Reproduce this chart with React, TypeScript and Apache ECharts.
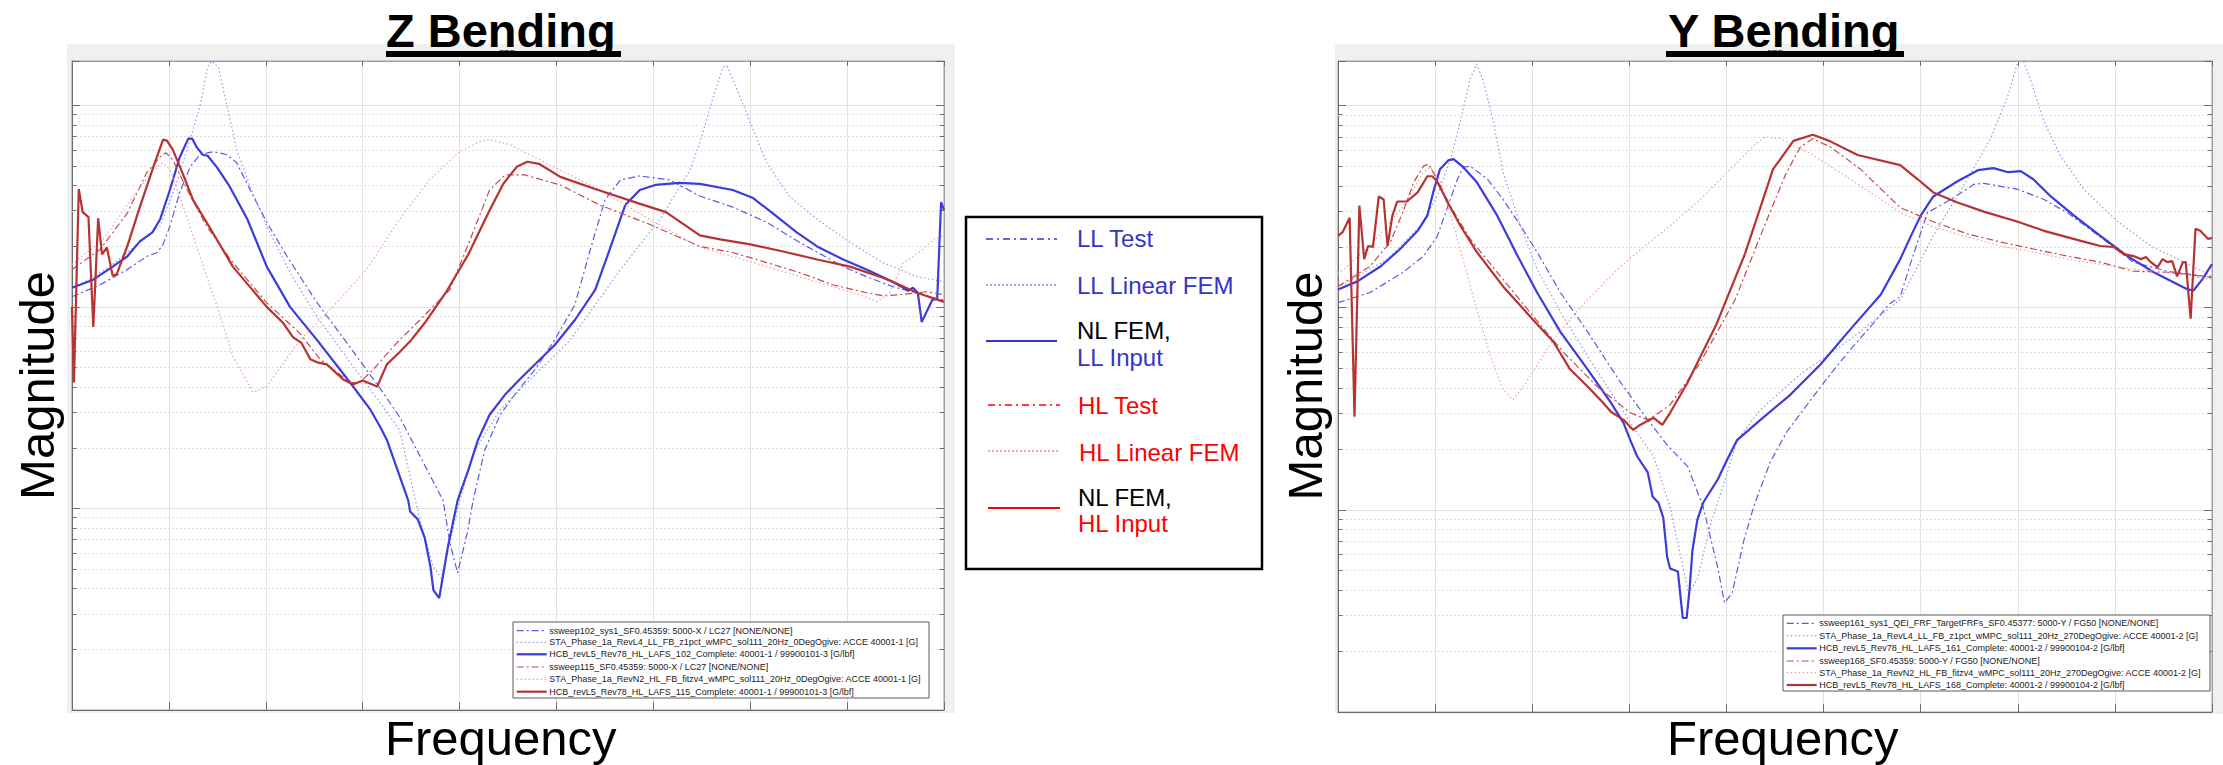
import React, { useEffect, useRef } from "react";
import * as echarts from "echarts";

// x in arbitrary frequency units (0..90, 9 grid divisions), y in dB (20*log10 magnitude)
const xTickValues = [0, 10, 20, 30, 40, 50, 60, 70, 80, 90];
const decadeValues = [-60, -40, -20, 0];
const minorFactors = [2, 3, 4, 5, 6, 7, 8, 9];

// ---------------- Z Bending ----------------
const zLLTest = [[0,-19.0],[2.9,-17.8],[5.7,-16.3],[7.7,-15.0],[8.8,-14.6],[9.4,-13.8],[10.1,-12.0],[11.1,-8.7],[12.2,-6.1],[13.2,-4.9],[14.6,-4.6],[16.0,-4.9],[17.0,-5.7],[18.4,-8.4],[20.1,-11.6],[22.2,-15.0],[25.3,-19.6],[28.7,-24.0],[32.1,-28.5],[33.8,-30.9],[38.3,-39.2],[39.0,-43.4],[39.8,-46.4],[40.8,-42.4],[41.4,-39.2],[42.6,-34.2],[44.2,-30.7],[45.7,-28.7],[47.8,-26.2],[49.8,-23.3],[51.9,-19.8],[53.5,-14.3],[55.0,-9.4],[56.6,-7.4],[58.6,-7.0],[61.7,-7.4],[64.8,-9.0],[68.2,-10.1],[71.7,-11.6],[75.1,-13.6],[79.6,-16.0],[82.0,-17.0],[84.7,-18.0],[87.2,-18.6],[88.9,-19.1],[90.0,-19.3]];
const zLLLinearFEM = [[0,-18.3],[3.9,-16.0],[7.0,-13.6],[9.1,-12.0],[10.8,-7.7],[12.2,-3.4],[13.2,-0.1],[14.0,3.8],[14.4,4.4],[15.1,3.8],[16.0,-0.1],[17.0,-4.4],[18.4,-8.1],[20.1,-12.0],[22.5,-16.6],[25.3,-21.0],[28.7,-25.5],[32.1,-29.9],[33.8,-32.2],[35.9,-41.1],[37.3,-45.8],[38.1,-46.9],[39.0,-43.4],[40.0,-39.2],[41.6,-34.2],[44.2,-30.2],[47.3,-27.2],[51.4,-23.3],[56.6,-16.3],[60.7,-11.3],[63.8,-6.4],[64.8,-3.7],[66.2,0.9],[67.2,3.8],[67.6,3.9],[68.2,2.6],[70.0,-1.7],[71.7,-5.7],[74.1,-9.1],[76.9,-11.3],[80.3,-13.6],[83.7,-15.6],[87.2,-17.0],[90.0,-17.5]];
const zLLNLFEM = [[0,-18.1],[2.2,-17.3],[4.2,-16.0],[5.7,-15.0],[7.0,-13.5],[8.3,-12.6],[9.1,-11.3],[10.1,-8.4],[11.1,-5.2],[12.0,-3.3],[12.4,-3.3],[12.9,-4.2],[13.5,-4.9],[14.0,-5.0],[15.0,-6.2],[16.3,-8.1],[18.1,-11.3],[20.1,-16.0],[22.5,-20.0],[25.3,-23.3],[28.7,-27.5],[30.8,-30.2],[31.8,-31.9],[32.5,-33.2],[34.7,-39.2],[34.9,-40.3],[35.7,-41.1],[36.4,-42.9],[37.0,-45.8],[37.3,-48.1],[37.9,-48.9],[38.8,-43.8],[39.8,-39.2],[40.9,-36.2],[41.9,-33.2],[43.1,-30.7],[44.7,-28.7],[46.2,-27.2],[47.8,-25.7],[49.8,-23.8],[51.9,-21.3],[54.0,-18.3],[55.5,-14.3],[57.1,-9.9],[58.6,-8.4],[60.2,-7.9],[62.7,-7.7],[64.8,-7.8],[68.2,-8.4],[70.3,-9.2],[72.3,-10.7],[74.8,-12.6],[76.9,-14.0],[79.6,-15.3],[82.0,-16.3],[84.7,-17.5],[85.8,-18.1],[86.3,-18.4],[86.8,-18.1],[87.3,-18.6],[87.7,-21.5],[88.8,-19.3],[89.3,-19.2],[89.7,-9.6],[90.0,-10.4]];
const zHLTest = [[0,-16.3],[2.9,-14.3],[5.7,-10.7],[7.7,-6.7],[9.1,-5.1],[9.7,-4.7],[10.4,-5.4],[11.9,-8.4],[13.9,-12.0],[16.6,-15.6],[20.1,-19.6],[23.5,-22.6],[25.6,-25.2],[28.7,-27.5],[29.7,-27.5],[31.1,-26.2],[33.1,-24.0],[33.8,-23.3],[35.9,-21.3],[39.0,-18.3],[41.1,-13.3],[43.1,-8.4],[44.7,-6.9],[46.7,-6.9],[50.4,-7.9],[54.5,-9.9],[59.6,-11.8],[64.8,-14.0],[68.2,-14.6],[71.7,-15.6],[75.1,-16.6],[78.5,-17.8],[82.0,-18.6],[83.7,-18.9],[85.4,-18.8],[88.2,-18.5],[90.0,-18.8]];
const zHLLinearFEM = [[0,-15.8],[3.2,-13.3],[6.3,-9.1],[8.4,-6.4],[9.4,-5.7],[10.1,-6.4],[11.5,-10.1],[13.2,-15.0],[15.0,-20.0],[16.6,-24.9],[18.7,-28.5],[20.1,-27.9],[23.5,-23.3],[26.9,-20.0],[30.4,-16.3],[33.8,-11.3],[36.9,-7.4],[40.0,-4.6],[42.1,-3.6],[43.1,-3.4],[45.2,-3.9],[49.3,-5.9],[54.5,-8.4],[59.6,-11.3],[64.8,-14.1],[68.2,-15.0],[71.7,-16.0],[75.1,-17.0],[78.5,-18.0],[81.3,-18.8],[83.1,-19.5],[84.4,-18.6],[85.8,-15.6],[86.8,-15.0],[87.8,-14.3],[88.9,-13.3],[90.0,-12.9]];
const zHLNLFEM = [[0,-20.0],[0.2,-27.5],[0.7,-8.3],[1.1,-10.6],[1.7,-11.1],[2.2,-22.0],[2.7,-11.2],[3.1,-14.8],[3.6,-14.1],[4.2,-16.9],[4.6,-16.8],[5.7,-14.0],[7.0,-10.1],[8.4,-6.1],[9.4,-3.4],[9.8,-3.5],[10.4,-4.4],[11.4,-6.7],[12.5,-9.4],[14.2,-12.1],[16.6,-16.0],[20.1,-20.0],[21.8,-21.6],[22.8,-23.0],[23.7,-23.6],[24.6,-25.2],[25.3,-25.5],[26.3,-25.7],[28.0,-27.2],[29.0,-27.7],[30.0,-27.3],[31.5,-27.9],[32.5,-25.7],[33.8,-24.5],[35.0,-23.3],[36.4,-21.6],[38.7,-18.4],[40.9,-14.8],[43.0,-10.6],[44.5,-7.8],[45.9,-6.1],[47.0,-5.6],[48.2,-5.8],[50.4,-7.1],[54.0,-8.3],[58.4,-9.7],[61.3,-10.6],[64.8,-12.9],[66.9,-13.3],[70.0,-13.8],[73.4,-14.5],[76.9,-15.3],[80.3,-16.0],[83.7,-17.1],[85.4,-17.8],[87.2,-18.6],[90.0,-19.5]];

// ---------------- Y Bending ----------------
const yLLTest = [[0,-19.5],[3.3,-18.5],[6.7,-16.5],[8.8,-14.9],[10.2,-13.0],[11.3,-10.0],[12.3,-7.3],[12.9,-6.1],[13.6,-6.0],[15.4,-7.3],[17.0,-9.3],[18.8,-11.9],[20.5,-14.5],[22.9,-18.5],[25.7,-22.4],[29.1,-27.4],[31.9,-31.1],[33.9,-33.6],[36.0,-35.7],[37.6,-39.7],[39.1,-45.7],[39.8,-49.2],[40.6,-48.2],[41.8,-43.0],[42.8,-39.7],[44.5,-35.3],[46.2,-32.3],[48.7,-29.1],[50.6,-26.7],[52.8,-24.1],[54.9,-21.8],[56.7,-19.7],[57.9,-18.9],[59.0,-15.5],[60.7,-10.6],[63.1,-9.3],[65.5,-7.8],[66.5,-7.7],[70.0,-8.3],[72.7,-9.3],[75.1,-10.6],[78.5,-13.0],[81.9,-15.5],[85.4,-16.4],[90.0,-17.0]];
const yLLLinearFEM = [[0,-18.0],[5.1,-15.2],[8.5,-11.9],[10.2,-9.0],[11.6,-5.3],[12.6,-1.6],[13.6,2.6],[14.3,4.1],[15.0,2.3],[16.0,-1.6],[17.0,-6.6],[18.8,-11.9],[20.5,-16.2],[23.2,-20.9],[25.7,-24.8],[28.4,-28.8],[30.8,-32.4],[32.5,-34.7],[34.2,-39.7],[35.3,-44.7],[36.1,-48.2],[37.0,-46.9],[38.4,-41.3],[40.1,-36.3],[41.1,-33.1],[43.5,-30.1],[47.6,-26.6],[52.8,-23.1],[57.9,-19.2],[61.3,-12.9],[64.8,-7.3],[67.2,-3.3],[69.0,1.0],[70.0,4.3],[70.5,4.6],[71.3,2.6],[72.7,-1.6],[74.4,-5.0],[76.8,-8.3],[80.3,-11.5],[83.7,-13.9],[87.1,-15.5],[90.0,-16.9]];
const yLLNLFEM = [[0,-18.2],[2.0,-17.4],[4.4,-15.9],[6.4,-14.2],[8.2,-12.4],[9.2,-10.9],[9.8,-8.6],[10.5,-6.3],[11.4,-5.4],[11.9,-5.3],[12.9,-6.1],[14.3,-7.6],[16.4,-10.9],[18.5,-14.9],[20.5,-18.5],[22.9,-22.4],[25.7,-26.1],[28.1,-29.4],[29.4,-31.4],[30.1,-33.1],[30.8,-34.7],[31.9,-36.3],[32.4,-38.7],[33.0,-39.3],[33.5,-40.8],[33.9,-44.7],[34.2,-45.8],[35.0,-46.1],[35.5,-50.7],[35.9,-50.7],[36.2,-47.9],[36.5,-44.0],[37.0,-41.0],[37.6,-39.3],[39.1,-37.0],[40.1,-35.0],[41.1,-33.1],[43.5,-31.1],[46.6,-28.6],[49.7,-25.6],[52.8,-22.1],[55.9,-18.7],[57.9,-15.2],[59.0,-12.9],[60.0,-10.9],[61.3,-9.0],[63.8,-7.5],[65.9,-6.4],[67.5,-6.2],[69.0,-6.6],[70.3,-6.5],[71.6,-7.3],[73.4,-9.0],[75.8,-10.9],[78.5,-12.9],[81.3,-14.9],[84.0,-16.5],[87.5,-18.2],[88.1,-18.3],[89.0,-17.2],[90.0,-15.7]];
const yHLTest = [[0,-17.9],[3.3,-15.9],[5.4,-13.5],[6.7,-10.5],[7.8,-7.6],[8.8,-6.0],[9.3,-5.8],[10.2,-7.3],[11.6,-10.0],[13.6,-13.2],[16.4,-16.5],[19.8,-20.5],[23.2,-24.4],[26.7,-27.8],[30.1,-30.4],[31.9,-31.1],[33.5,-30.1],[34.2,-29.6],[37.2,-25.6],[40.9,-19.2],[44.0,-11.7],[46.1,-6.8],[47.6,-4.1],[48.9,-3.3],[50.7,-4.1],[53.8,-6.3],[57.9,-10.1],[61.3,-11.5],[64.8,-12.7],[68.2,-13.5],[71.6,-14.2],[75.1,-14.9],[78.5,-15.5],[81.9,-16.4],[85.4,-16.5],[90.0,-17.0]];
const yHLLinearFEM = [[0,-16.7],[3.3,-13.9],[6.7,-10.0],[8.8,-6.6],[9.5,-6.1],[10.5,-7.3],[12.3,-13.2],[14.0,-19.2],[15.7,-24.8],[17.0,-28.1],[18.0,-29.1],[19.1,-27.8],[22.2,-23.1],[25.7,-19.2],[29.1,-15.9],[32.5,-13.2],[34.2,-11.9],[37.3,-9.3],[40.4,-6.3],[43.0,-3.8],[44.0,-3.1],[45.6,-3.3],[48.7,-4.8],[52.8,-7.3],[57.9,-10.6],[61.3,-12.0],[64.8,-13.0],[68.2,-13.9],[71.6,-14.5],[75.1,-15.2],[78.5,-15.7],[81.9,-16.2],[85.4,-16.5],[90.0,-17.2]];
const yHLNLFEM = [[0,-12.9],[0.5,-12.5],[1.2,-11.1],[1.7,-30.8],[2.2,-9.9],[2.7,-15.2],[3.1,-13.9],[3.6,-14.0],[4.2,-9.0],[4.7,-9.3],[5.1,-13.9],[5.6,-10.9],[6.1,-9.5],[7.1,-9.5],[8.2,-8.6],[9.2,-7.0],[9.7,-7.0],[10.2,-7.5],[11.3,-9.6],[12.6,-11.9],[14.3,-14.5],[17.0,-17.9],[19.8,-20.9],[22.2,-23.4],[23.9,-26.1],[25.7,-27.8],[27.3,-29.4],[28.1,-30.3],[29.4,-31.1],[30.4,-32.1],[31.1,-31.6],[32.5,-30.9],[33.4,-31.6],[34.2,-30.4],[36.0,-27.4],[38.9,-21.8],[41.9,-14.7],[44.8,-6.3],[46.9,-3.5],[48.9,-2.9],[50.6,-3.5],[53.5,-4.9],[57.9,-5.9],[59.7,-7.3],[61.3,-8.6],[63.8,-9.6],[66.5,-10.5],[70.0,-11.5],[72.7,-12.4],[76.5,-13.4],[78.5,-13.9],[79.9,-14.0],[80.9,-14.7],[81.9,-14.9],[82.7,-15.2],[83.2,-15.0],[83.7,-15.5],[84.4,-16.0],[84.9,-15.2],[85.4,-15.5],[85.9,-15.4],[86.4,-16.9],[87.0,-15.5],[87.3,-15.5],[87.8,-21.1],[88.3,-12.2],[88.8,-12.4],[89.6,-13.2],[90.0,-13.1]];

const zLegendLabels = [
  "ssweep102_sys1_SF0.45359: 5000-X / LC27 [NONE/NONE]",
  "STA_Phase_1a_RevL4_LL_FB_z1pct_wMPC_sol111_20Hz_0DegOgive: ACCE 40001-1 [G]",
  "HCB_revL5_Rev78_HL_LAFS_102_Complete: 40001-1 / 99900101-3 [G/lbf]",
  "ssweep115_SF0.45359: 5000-X / LC27 [NONE/NONE]",
  "STA_Phase_1a_RevN2_HL_FB_fitzv4_wMPC_sol111_20Hz_0DegOgive: ACCE 40001-1 [G]",
  "HCB_revL5_Rev78_HL_LAFS_115_Complete: 40001-1 / 99900101-3 [G/lbf]",
];
const yLegendLabels = [
  "ssweep161_sys1_QEI_FRF_TargetFRFs_SF0.45377: 5000-Y / FG50 [NONE/NONE]",
  "STA_Phase_1a_RevL4_LL_FB_z1pct_wMPC_sol111_20Hz_270DegOgive: ACCE 40001-2 [G]",
  "HCB_revL5_Rev78_HL_LAFS_161_Complete: 40001-2 / 99900104-2 [G/lbf]",
  "ssweep168_SF0.45359: 5000-Y / FG50 [NONE/NONE]",
  "STA_Phase_1a_RevN2_HL_FB_fitzv4_wMPC_sol111_20Hz_270DegOgive: ACCE 40001-2 [G]",
  "HCB_revL5_Rev78_HL_LAFS_168_Complete: 40001-2 / 99900104-2 [G/lbf]",
];

const FONT = '"Liberation Sans", Arial, Helvetica, sans-serif';
const DASHDOT = [7, 3, 2, 3];
const DOT = [1.5, 2.5];

const lineStyles = [
  { color: "#5a5ae6", width: 1.2, type: DASHDOT },
  { color: "#9595f2", width: 1.2, type: DOT },
  { color: "#3c3cdc", width: 2.2, type: "solid" },
  { color: "#c44a4a", width: 1.2, type: DASHDOT },
  { color: "#eba3a3", width: 1.2, type: DOT },
  { color: "#b83232", width: 2.2, type: "solid" },
];

const zSeries = [zLLTest, zLLLinearFEM, zLLNLFEM, zHLTest, zHLLinearFEM, zHLNLFEM];
const ySeries = [yLLTest, yLLLinearFEM, yLLNLFEM, yHLTest, yHLLinearFEM, yHLNLFEM];

function buildOption() {
  const grids = [
    { left: 72, top: 61, width: 872, height: 649 },
    { left: 1338, top: 61, width: 874, height: 651 },
  ].map((g) => ({
    ...g,
    show: true,
    backgroundColor: "#ffffff",
    borderColor: "#a0a0a0",
    borderWidth: 1,
    containLabel: false,
  }));

  const xAxes: any[] = [];
  const yAxes: any[] = [];
  [0, 1].forEach((g) => {
    [false, true].forEach((top) => {
      xAxes.push({
        type: "value",
        gridIndex: g,
        min: xTickValues[0],
        max: xTickValues[xTickValues.length - 1],
        interval: 10,
        position: top ? "top" : "bottom",
        axisLabel: { show: false },
        axisLine: { show: true, onZero: false, lineStyle: { color: top ? "#a0a0a0" : "#6e6e6e", width: 1 } },
        axisTick: { show: true, inside: true, length: top ? 5 : 8, lineStyle: { color: "#6e6e6e" } },
        splitLine: { show: !top, lineStyle: { color: "#e2e2e2", width: 1 } },
      });
    });
    [false, true].forEach((right) => {
      yAxes.push({
        type: "value",
        gridIndex: g,
        min: decadeValues[0],
        max: 4.4,
        interval: 20,
        position: right ? "right" : "left",
        axisLabel: { show: false },
        axisLine: { show: true, onZero: false, lineStyle: { color: right ? "#a0a0a0" : "#6e6e6e", width: 1 } },
        axisTick: { show: true, inside: true, length: 8, lineStyle: { color: "#6e6e6e" } },
        splitLine: { show: !right, lineStyle: { color: "#e2e2e2", width: 1 } },
      });
    });
  });

  const minorValues: number[] = [];
  decadeValues.slice(0, 3).forEach((d) => {
    minorFactors.forEach((k) => minorValues.push(d + 20 * Math.log10(k)));
  });

  const series: any[] = [];
  [zSeries, ySeries].forEach((set, g) => {
    const tickPairs: any[] = [];
    minorValues.forEach((v) => {
      tickPairs.push([
        { coord: [0, v], lineStyle: { type: "solid", color: "#6e6e6e", width: 1 } },
        { coord: [0.45, v] },
      ]);
      tickPairs.push([
        { coord: [89.55, v], lineStyle: { type: "solid", color: "#6e6e6e", width: 1 } },
        { coord: [90, v] },
      ]);
    });
    series.push({
      type: "line",
      xAxisIndex: g * 2,
      yAxisIndex: g * 2,
      data: [],
      silent: true,
      markLine: {
        silent: true,
        z: 1,
        symbol: ["none", "none"],
        label: { show: false },
        lineStyle: { type: [2, 2], color: "#dedede", width: 1 },
        data: [...minorValues.map((v) => ({ yAxis: v })), ...tickPairs],
      },
    });
    set.forEach((data, i) => {
      series.push({
        type: "line",
        name: (g === 0 ? zLegendLabels : yLegendLabels)[i],
        xAxisIndex: g * 2,
        yAxisIndex: g * 2,
        data,
        showSymbol: false,
        symbol: "none",
        smooth: false,
        silent: true,
        clip: true,
        lineStyle: { ...lineStyles[i] },
        z: 3,
      });
    });
  });

  const graphic: any[] = [];
  graphic.push({ type: "rect", z: -10, silent: true, shape: { x: 67, y: 44, width: 888, height: 669 }, style: { fill: "#f0f0f0" } });
  graphic.push({ type: "rect", z: -10, silent: true, shape: { x: 1335, y: 44, width: 888, height: 670 }, style: { fill: "#f0f0f0" } });

  const titles = [
    { text: "Z Bending", x: 386, ux: 386, uw: 235, fx: 507 },
    { text: "Y Bending", x: 1668, ux: 1666, uw: 238, fx: 1775 },
  ];
  titles.forEach((t) => {
    graphic.push({ type: "text", z: 20, x: t.fx, y: 52, style: { text: "FRF", font: `8px ${FONT}`, fill: "#000", textAlign: "center", textVerticalAlign: "middle" } });
    graphic.push({ type: "text", z: 21, x: t.x, y: 30.4, style: { text: t.text, font: `bold 47px ${FONT}`, fill: "#000", textAlign: "left", textVerticalAlign: "middle" } });
    graphic.push({ type: "rect", z: 21, shape: { x: t.ux, y: 51, width: t.uw, height: 6 }, style: { fill: "#000" } });
  });

  [
    { mx: 37, my: 385.5, fx: 385 },
    { mx: 1305, my: 386, fx: 1667 },
  ].forEach((p) => {
    graphic.push({ type: "text", z: 20, x: p.mx, y: p.my, rotation: Math.PI / 2, style: { text: "Magnitude", font: `49px ${FONT}`, fill: "#000", textAlign: "center", textVerticalAlign: "middle" } });
    graphic.push({ type: "text", z: 20, x: p.fx, y: 738, style: { text: "Frequency", font: `49px ${FONT}`, fill: "#000", textAlign: "left", textVerticalAlign: "middle" } });
  });

  const legendBoxes = [
    { x: 513, y: 622, w: 416, h: 76, rows: [630.7, 642.3, 654.3, 667, 679.3, 691.7], lx1: 516.7, lx2: 546.7, tx: 549.3, labels: zLegendLabels },
    { x: 1783, y: 615, w: 427, h: 76, rows: [623.3, 635.7, 648.3, 661, 672.7, 685], lx1: 1786.7, lx2: 1816.7, tx: 1819.3, labels: yLegendLabels },
  ];
  legendBoxes.forEach((b) => {
    graphic.push({ type: "rect", z: 50, shape: { x: b.x, y: b.y, width: b.w, height: b.h }, style: { fill: "#ffffff", stroke: "#5a5a5a", lineWidth: 1 } });
    b.rows.forEach((ry, i) => {
      const ls = lineStyles[i];
      graphic.push({
        type: "line", z: 51,
        shape: { x1: b.lx1, y1: ry, x2: b.lx2, y2: ry },
        style: { stroke: ls.color, lineWidth: ls.width, lineDash: ls.type === "solid" ? null : ls.type },
      });
      graphic.push({ type: "text", z: 51, x: b.tx, y: ry, style: { text: b.labels[i], font: `9px ${FONT}`, fill: "#222", textAlign: "left", textVerticalAlign: "middle" } });
    });
  });

  const keyBlue = "#3535c8";
  const keyRed = "#ff0000";
  graphic.push({ type: "rect", z: 50, shape: { x: 966, y: 217, width: 296, height: 352 }, style: { fill: "#ffffff", stroke: "#000", lineWidth: 2.5 } });
  const keyLines = [
    { x1: 986, x2: 1057, y: 239, stroke: keyBlue, dash: [7, 4, 2, 4], w: 1.6 },
    { x1: 986, x2: 1056, y: 285, stroke: "#8a8ae0", dash: [2, 2], w: 1.6 },
    { x1: 986, x2: 1057, y: 341, stroke: keyBlue, dash: null, w: 2 },
    { x1: 988, x2: 1060, y: 405, stroke: keyRed, dash: [7, 4, 2, 4], w: 1.6 },
    { x1: 988, x2: 1058, y: 451, stroke: "#ff8080", dash: [2, 2], w: 1.6 },
    { x1: 988, x2: 1060, y: 508, stroke: keyRed, dash: null, w: 2 },
  ];
  keyLines.forEach((k) => {
    graphic.push({ type: "line", z: 51, shape: { x1: k.x1, y1: k.y, x2: k.x2, y2: k.y }, style: { stroke: k.stroke, lineWidth: k.w, lineDash: k.dash } });
  });
  const keyTexts = [
    { t: "LL Test", x: 1077, y: 238, c: keyBlue },
    { t: "LL Linear FEM", x: 1077, y: 285, c: keyBlue },
    { t: "NL FEM,", x: 1077, y: 330, c: "#000" },
    { t: "LL Input", x: 1077, y: 357, c: keyBlue },
    { t: "HL Test", x: 1078, y: 405, c: keyRed },
    { t: "HL Linear FEM", x: 1079, y: 452, c: keyRed },
    { t: "NL FEM,", x: 1078, y: 497, c: "#000" },
    { t: "HL Input", x: 1078, y: 523, c: keyRed },
  ];
  keyTexts.forEach((k) => {
    graphic.push({ type: "text", z: 51, x: k.x, y: k.y, style: { text: k.t, font: `24px ${FONT}`, fill: k.c, textAlign: "left", textVerticalAlign: "middle" } });
  });

  return {
    animation: false,
    backgroundColor: "#ffffff",
    textStyle: { fontFamily: FONT },
    grid: grids,
    xAxis: xAxes,
    yAxis: yAxes,
    series,
    graphic: { elements: graphic },
  };
}

export default function App() {
  const ref = useRef<HTMLDivElement>(null);
  useEffect(() => {
    if (!ref.current) return;
    const chart = echarts.init(ref.current, null, { renderer: "svg" });
    chart.setOption(buildOption() as any);
    return () => chart.dispose();
  }, []);
  return (
    <div
      ref={ref}
      style={{ position: "absolute", left: 0, top: 0, width: "2223px", height: "765px" }}
    />
  );
}
